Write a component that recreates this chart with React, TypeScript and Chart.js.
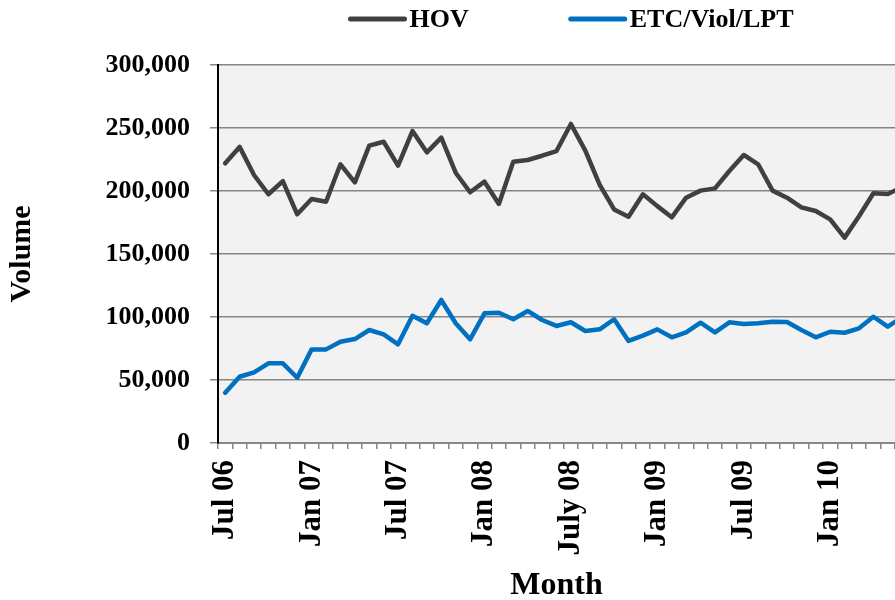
import React, { useEffect, useRef } from 'react';
import { Chart, registerables } from 'chart.js';

Chart.register(...registerables);

const FONT = "'Liberation Serif', 'Times New Roman', serif";

// Monthly categories (Jul 06 .. Jun 10); the last month lies just past the right edge
const months = [
  'Jul 06', 'Aug 06', 'Sep 06', 'Oct 06', 'Nov 06', 'Dec 06',
  'Jan 07', 'Feb 07', 'Mar 07', 'Apr 07', 'May 07', 'Jun 07',
  'Jul 07', 'Aug 07', 'Sep 07', 'Oct 07', 'Nov 07', 'Dec 07',
  'Jan 08', 'Feb 08', 'Mar 08', 'Apr 08', 'May 08', 'Jun 08',
  'July 08', 'Aug 08', 'Sep 08', 'Oct 08', 'Nov 08', 'Dec 08',
  'Jan 09', 'Feb 09', 'Mar 09', 'Apr 09', 'May 09', 'Jun 09',
  'Jul 09', 'Aug 09', 'Sep 09', 'Oct 09', 'Nov 09', 'Dec 09',
  'Jan 10', 'Feb 10', 'Mar 10', 'Apr 10', 'May 10', 'Jun 10',
];

// Axis labels shown every 6 months
const tickLabels = ['Jul 06', 'Jan 07', 'Jul 07', 'Jan 08', 'July 08', 'Jan 09', 'Jul 09', 'Jan 10'];
const tickEvery = 6;

const hov = [
  222000, 235000, 212700, 197400, 207900, 181500,
  193600, 191500, 221200, 206900, 236000, 239100,
  220100, 247600, 230700, 242300, 214500, 199000,
  207400, 189700, 223300, 224600, 228000, 231700,
  253200, 232000, 204800, 185400, 179600, 197400,
  188000, 179100, 194700, 200300, 202100, 215900,
  228600, 221200, 200300, 194700, 187000, 184100,
  177500, 163000, 180000, 198200, 197600, 203000,
];

const etc = [
  39900, 52600, 56100, 63200, 63200, 51800,
  74300, 74300, 80400, 82500, 89700, 86200,
  78300, 101000, 95000, 113500, 95000, 82300,
  102900, 103400, 98200, 104800, 97600, 92900,
  95800, 88900, 90200, 98200, 81000, 85200,
  90200, 83900, 87800, 95500, 87800, 95800,
  94400, 95000, 96300, 96000, 89700, 83900,
  88300, 87500, 91000, 100200, 92300, 100000,
];

const yTicks = { min: 0, max: 300000, step: 50000 };

const seriesNames = ['HOV', 'ETC/Viol/LPT'];
const seriesColors = ['#404040', '#0070C0'];

const plotBg = {
  id: 'plotBg',
  beforeDraw(chart: any) {
    const { ctx, chartArea: a, width, height } = chart;
    ctx.save();
    ctx.fillStyle = '#ffffff';
    ctx.fillRect(0, 0, width, height);
    ctx.fillStyle = '#f2f2f2';
    ctx.fillRect(a.left, a.top, a.right - a.left, a.bottom - a.top);
    ctx.restore();
  },
};

const topLegend = {
  id: 'topLegend',
  afterDraw(chart: any) {
    const ctx = chart.ctx;
    ctx.save();
    ctx.font = `bold 26px ${FONT}`;
    const lineLen = 54;
    const gapText = 5;
    const gapItems = 102;
    const items = chart.data.datasets.map((d: any) => ({
      text: d.label,
      color: d.borderColor,
      w: ctx.measureText(d.label).width,
    }));
    const total =
      items.reduce((s: number, it: any) => s + lineLen + gapText + it.w, 0) +
      gapItems * (items.length - 1);
    let x = 572 - total / 2;
    const y = 19;
    items.forEach((it: any) => {
      ctx.strokeStyle = it.color;
      ctx.lineWidth = 5;
      ctx.lineCap = 'round';
      ctx.beginPath();
      ctx.moveTo(x, y);
      ctx.lineTo(x + lineLen, y);
      ctx.stroke();
      ctx.fillStyle = '#000';
      ctx.textBaseline = 'middle';
      ctx.textAlign = 'left';
      ctx.fillText(it.text, x + lineLen + gapText, y + 1);
      x += lineLen + gapText + it.w + gapItems;
    });
    ctx.restore();
  },
};

export default function App() {
  const ref = useRef<HTMLCanvasElement | null>(null);

  useEffect(() => {
    if (!ref.current) return;
    const chart = new Chart(ref.current, {
      type: 'line',
      data: {
        datasets: [hov, etc].map((series, k) => ({
          label: seriesNames[k],
          data: series.map((v, i) => ({ x: i, y: v })),
          borderColor: seriesColors[k],
          backgroundColor: seriesColors[k],
          borderWidth: 4.5,
          pointRadius: 0,
          tension: 0,
          fill: false,
          borderJoinStyle: 'round',
          borderCapStyle: 'round',
        })),
      },
      options: {
        responsive: false,
        animation: false,
        events: [],
        layout: { padding: { top: 65, left: 0, right: 0, bottom: 0 } },
        plugins: {
          legend: { display: false },
          tooltip: { enabled: false },
        },
        scales: {
          x: {
            type: 'linear',
            min: -0.5,
            max: months.length - 1.5,
            afterBuildTicks: (scale: any) => {
              scale.ticks = months
                .map((_, i) => ({ value: i }))
                .filter((t) => t.value <= scale.max);
            },
            afterFit: (scale: any) => {
              scale.height = 157;
              scale.paddingLeft = 0;
              scale.paddingRight = 0;
            },
            ticks: {
              autoSkip: false,
              maxRotation: 90,
              minRotation: 90,
              padding: 11,
              color: '#000',
              font: { family: FONT, size: 31, weight: 'bold' },
              callback: (value: any) =>
                Number(value) % tickEvery === 0 ? tickLabels[Number(value) / tickEvery] ?? '' : '',
            },
            grid: {
              offset: true,
              drawOnChartArea: false,
              drawTicks: true,
              tickLength: 6,
              color: '#868686',
              lineWidth: 1.5,
            },
            border: { display: true, color: '#868686', width: 2 },
            title: {
              display: true,
              text: 'Month',
              color: '#000',
              font: { family: FONT, size: 32, weight: 'bold', lineHeight: 0.9 },
              padding: { top: 0, bottom: 0 },
            },
          },
          y: {
            min: yTicks.min,
            max: yTicks.max,
            afterFit: (scale: any) => {
              scale.width = 218;
              scale.paddingTop = 0;
              scale.paddingBottom = 0;
            },
            ticks: {
              stepSize: yTicks.step,
              padding: 20,
              color: '#000',
              font: { family: FONT, size: 26, weight: 'bold' },
              callback: (value: any) => Number(value).toLocaleString('en-US'),
            },
            grid: {
              color: '#868686',
              lineWidth: 1.5,
              tickLength: 8,
            },
            border: { display: true, color: '#000', width: 2 },
            title: {
              display: true,
              text: 'Volume',
              color: '#000',
              font: { family: FONT, size: 30, weight: 'bold', lineHeight: 1.2 },
              padding: { top: 4, bottom: 0 },
            },
          },
        },
      },
      plugins: [plotBg, topLegend],
    } as any);
    return () => chart.destroy();
  }, []);

  return (
    <div style={{ position: 'fixed', left: 0, top: 0, width: 895, height: 600, overflow: 'hidden', background: '#fff' }}>
      <canvas ref={ref} width={895} height={600} style={{ width: 895, height: 600, display: 'block' }} />
    </div>
  );
}
